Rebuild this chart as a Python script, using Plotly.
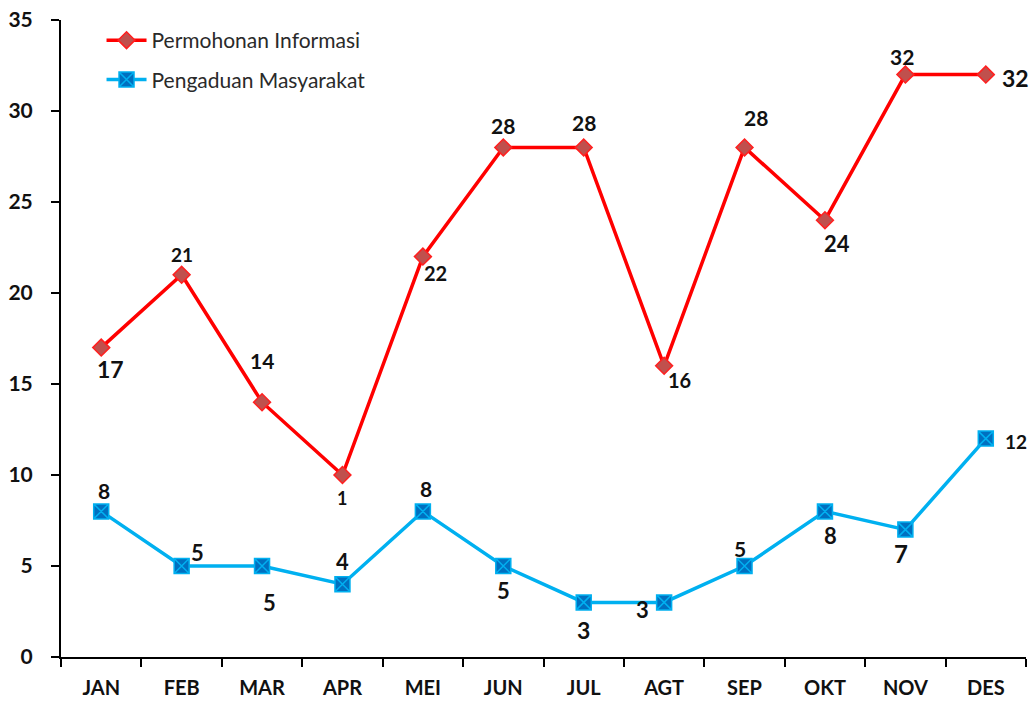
import plotly.graph_objects as go

months = ["JAN", "FEB", "MAR", "APR", "MEI", "JUN", "JUL", "AGT", "SEP", "OKT", "NOV", "DES"]
permohonan = [17, 21, 14, 10, 22, 28, 28, 16, 28, 24, 32, 32]
permohonan_labels = ["17", "21", "14", "1", "22", "28", "28", "16", "28", "24", "32", "32"]
pengaduan = [8, 5, 5, 4, 8, 5, 3, 3, 5, 8, 7, 12]
pengaduan_labels = ["8", "5", "5", "4", "8", "5", "3", "3", "5", "8", "7", "12"]
y_ticks = [0, 5, 10, 15, 20, 25, 30, 35]

# label offsets in pixels (xshift, yshift) and font sizes - styling only
red_off = [(9, -21), (0, 20), (0, 42), (0, -23), (13, -16), (0, 22), (0, 25),
           (15, -14), (11, 30), (12, -23), (-3, 18), (30, -3)]
red_size = [23, 19, 21, 18, 20, 21, 21, 20, 21, 22, 21, 23]
blue_off = [(3, 21), (16, 14), (7, -36), (0, 23), (3, 23), (0, -24), (0, -28),
            (-22, -7), (-5, 18), (6, -24), (-4, -24), (30, -3)]
blue_size = [21, 22, 22, 22, 21, 22, 23, 22, 21, 22, 24, 19]

FONT = "Lato"

fig = go.Figure()
fig.add_trace(go.Scatter(
    x=months, y=permohonan, mode="lines+markers", name="Permohonan Informasi",
    line=dict(color="#FF0000", width=3.5),
    marker=dict(symbol="diamond", size=13, color="#C0504D", line=dict(color="#FF2020", width=1.5)),
    legendgroup="a",
))
fig.add_trace(go.Scatter(
    x=months, y=pengaduan, mode="lines+markers", name="Pengaduan Masyarakat",
    line=dict(color="#00B0F0", width=3.5),
    marker=dict(symbol="square-x", size=15, color="#0070C0", line=dict(color="#00B0F0", width=1.5)),
    legendgroup="b",
))

annotations = []
for i, m in enumerate(months):
    annotations.append(dict(x=m, y=permohonan[i], text=permohonan_labels[i], showarrow=False,
                            xshift=red_off[i][0], yshift=red_off[i][1],
                            font=dict(family=FONT, size=red_size[i], color="#111111", weight="bold")))
    annotations.append(dict(x=m, y=pengaduan[i], text=pengaduan_labels[i], showarrow=False,
                            xshift=blue_off[i][0], yshift=blue_off[i][1],
                            font=dict(family=FONT, size=blue_size[i], color="#111111", weight="bold")))

fig.update_layout(
    width=1030, height=702,
    margin=dict(l=61, r=4, t=20, b=45, autoexpand=False),
    paper_bgcolor="white", plot_bgcolor="white",
    showlegend=True,
    legend=dict(x=0.042, y=1.0, xanchor="left", yanchor="top", bgcolor="rgba(0,0,0,0)",
                font=dict(family=FONT, size=21, color="#2a2a2a"),
                traceorder="grouped", tracegroupgap=9, itemwidth=40),
    annotations=annotations,
)
fig.update_xaxes(
    type="category", categoryorder="array", categoryarray=months,
    range=[-0.5, 11.5], showline=True, linecolor="black", linewidth=2,
    ticks="outside", tickson="boundaries", ticklen=8, tickwidth=2, tickcolor="black",
    showgrid=False, zeroline=False, automargin=False,
    tickfont=dict(family=FONT, size=20, color="#111111", weight="bold"),
    ticklabelstandoff=12,
)
fig.update_yaxes(
    range=[0, 35], tickvals=y_ticks, showline=True, linecolor="black", linewidth=2,
    ticks="outside", ticklen=8, tickwidth=2, tickcolor="black",
    showgrid=False, zeroline=False, automargin=False,
    tickfont=dict(family=FONT, size=21, color="#111111", weight="bold"),
    ticklabelstandoff=14,
)

fig.write_html("out.html", config={"displayModeBar": False},
               post_script="document.body.style.margin='0';")
